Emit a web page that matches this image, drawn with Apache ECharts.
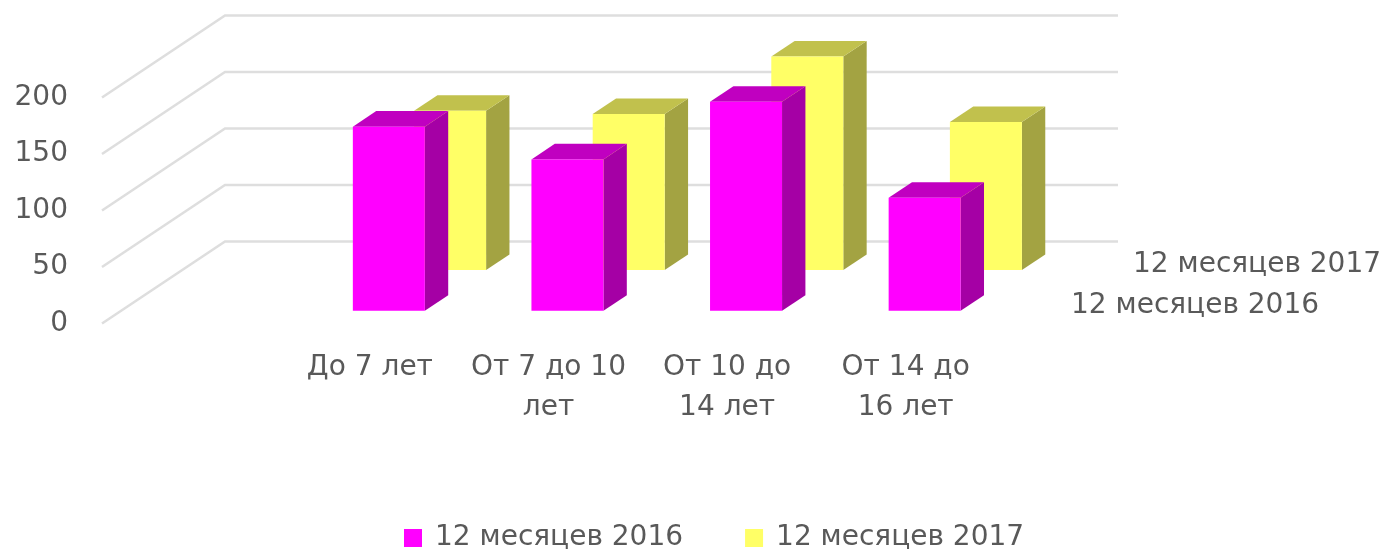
<!DOCTYPE html>
<html>
<head>
<meta charset="utf-8">
<title>chart</title>
<style>
  html, body { margin: 0; padding: 0; background: #fff; }
  #chart { width: 1393px; height: 552px; }
</style>
</head>
<body>
<div id="chart"></div>
<script src="https://cdn.jsdelivr.net/npm/echarts@6/dist/echarts.min.js"></script>
<script>
// first slot is empty in the original chart, bars start from the second one
var categories = ["", "До 7 лет", "От 7 до 10\nлет", "От 10 до\n14 лет", "От 14 до\n16 лет"];
var values2016 = [null, 163, 134, 185, 100];
var values2017 = [null, 141, 138, 189, 131];
var yTicks = [0, 50, 100, 150, 200];
var name2016 = "12 месяцев 2016";
var name2017 = "12 месяцев 2017";

// oblique projection: how far the back wall is shifted from the front plane
var DEPTH_X = 123;
var DEPTH_Y = -82;
var BAR_DEPTH = 0.19;
var BAR_WIDTH = 72;
var FONT = "'DejaVu Sans', sans-serif";
var FONT_SIZE = 28;
var TEXT_COLOR = "#595959";

function toPairs(arr) {
  return arr.map(function (v, i) {
    return [i, v];
  });
}

function barRenderer(depth, colors) {
  return function (params, api) {
    if (api.value(1) == null || isNaN(api.value(1))) return;
    var base = api.coord([api.value(0), 0]);
    var top = api.coord([api.value(0), api.value(1)]);
    var sx = DEPTH_X * depth;
    var sy = DEPTH_Y * depth;
    var l = base[0] + sx - BAR_WIDTH / 2;
    var r = l + BAR_WIDTH;
    var b = base[1] + sy;
    var t = top[1] + sy;
    var dx = DEPTH_X * BAR_DEPTH;
    var dy = DEPTH_Y * BAR_DEPTH;
    return {
      type: "group",
      children: [
        { type: "polygon", shape: { points: [[r, b], [r + dx, b + dy], [r + dx, t + dy], [r, t]] }, style: { fill: colors.side } },
        { type: "polygon", shape: { points: [[l, t], [r, t], [r + dx, t + dy], [l + dx, t + dy]] }, style: { fill: colors.top } },
        { type: "rect", shape: { x: l, y: t, width: BAR_WIDTH, height: b - t }, style: { fill: colors.face } }
      ]
    };
  };
}

// gridlines: diagonal on the side wall, then horizontal on the back wall
function wallRenderer(params, api) {
  var cs = params.coordSys;
  var y = api.coord([0, api.value(1)])[1];
  return {
    type: "polyline",
    shape: {
      points: [
        [cs.x, y],
        [cs.x + DEPTH_X, y + DEPTH_Y],
        [cs.x + DEPTH_X + cs.width, y + DEPTH_Y]
      ]
    },
    style: { fill: null, stroke: "#dedede", lineWidth: 2.5 }
  };
}

var chart = echarts.init(document.getElementById("chart"));
chart.setOption({
  animation: false,
  backgroundColor: "#fff",
  textStyle: { fontFamily: FONT },
  grid: { left: 102, top: 97.5, width: 893, height: 226 },
  xAxis: {
    type: "category",
    data: categories,
    axisLine: { show: false },
    axisTick: { show: false },
    axisLabel: {
      color: TEXT_COLOR,
      fontFamily: FONT,
      fontSize: FONT_SIZE,
      lineHeight: 40,
      margin: 24,
      interval: 0
    }
  },
  yAxis: {
    type: "value",
    min: 0,
    max: 200,
    interval: 50,
    axisLine: { show: false },
    axisTick: { show: false },
    splitLine: { show: false },
    axisLabel: {
      color: TEXT_COLOR,
      fontFamily: FONT,
      fontSize: FONT_SIZE,
      margin: 34,
      padding: [0, 0, 4, 0]
    }
  },
  legend: {
    data: [name2016, name2017],
    left: 399,
    top: 519,
    icon: "rect",
    itemWidth: 18,
    itemHeight: 18,
    itemGap: 62,
    textStyle: { color: TEXT_COLOR, fontFamily: FONT, fontSize: FONT_SIZE, padding: [0, 0, 0, 8] }
  },
  graphic: [
    { type: "text", left: 1133, top: 251, style: { text: name2017, fill: TEXT_COLOR, font: FONT_SIZE + "px " + FONT } },
    { type: "text", left: 1071, top: 292, style: { text: name2016, fill: TEXT_COLOR, font: FONT_SIZE + "px " + FONT } }
  ],
  series: [
    {
      type: "custom",
      z: 1,
      silent: true,
      renderItem: wallRenderer,
      encode: { x: 0, y: 1 },
      data: yTicks.map(function (v) { return [0, v]; })
    },
    {
      name: name2017,
      type: "custom",
      z: 2,
      itemStyle: { color: "#ffff66" },
      renderItem: barRenderer(0.652, { face: "#ffff66", side: "#a3a342", top: "#c1c14d" }),
      encode: { x: 0, y: 1 },
      data: toPairs(values2017)
    },
    {
      name: name2016,
      type: "custom",
      z: 3,
      itemStyle: { color: "#ff00ff" },
      renderItem: barRenderer(0.154, { face: "#ff00ff", side: "#a500a5", top: "#c000c0" }),
      encode: { x: 0, y: 1 },
      data: toPairs(values2016)
    }
  ]
});
</script>
</body>
</html>
